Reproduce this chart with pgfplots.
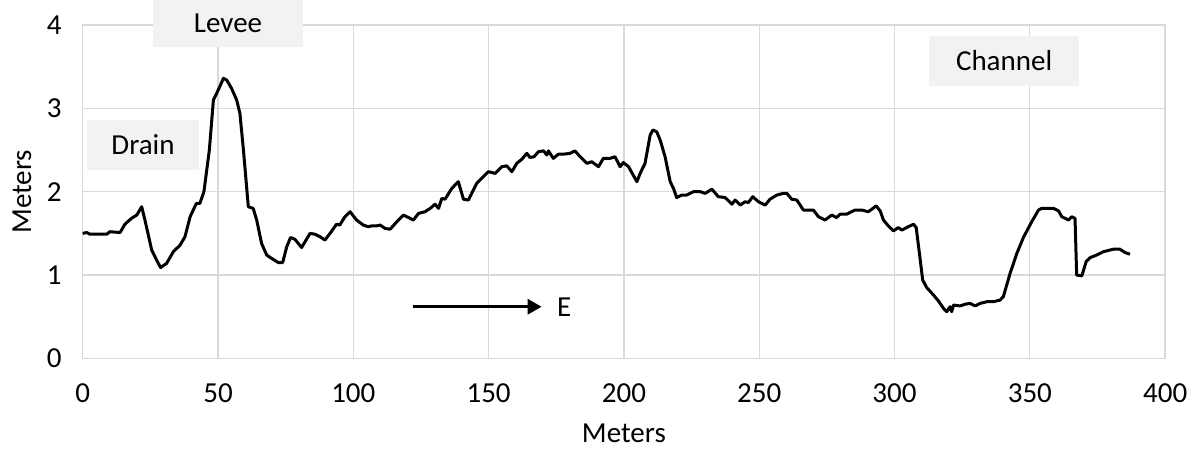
\documentclass[border=0pt]{standalone}
\usepackage{fontspec}
\setmainfont{Carlito}
\usepackage{pgfplots}
\pgfplotsset{compat=1.18}
\usetikzlibrary{arrows.meta}
\definecolor{gridc}{HTML}{D9D9D9}
\definecolor{boxc}{HTML}{F2F2F2}
\begin{document}
\begin{tikzpicture}
\begin{axis}[
  name=ax,
  scale only axis,
  width=541.2bp, height=166.7bp,
  xmin=0, xmax=400, ymin=0, ymax=4,
  xtick={0,50,...,400}, ytick={0,1,2,3,4},
  grid=major,
  grid style={gridc, line width=0.6bp},
  axis line style={gridc, line width=0.8bp},
  tick style={draw=none},
  clip=false,
  font=\fontsize{14.5bp}{17bp}\selectfont,
  /pgf/number format/assume math mode=true,
  xticklabel style={yshift=-9bp},
  yticklabel style={xshift=-7bp},
  xlabel={Meters}, ylabel={Meters},
  xlabel style={yshift=-4bp},
  ylabel style={yshift=1bp},
]
\addplot[black, line width=1.5bp, line join=round] coordinates {
(0,1.50) (1.5,1.51) (2.7,1.49) (8.9,1.49) (10,1.52) (13.8,1.51) (15.6,1.61) (18,1.68) (20,1.72) (21.8,1.82) (23,1.66) (25.5,1.30) (27.3,1.18) (28.8,1.09) (31,1.14) (33.5,1.28) (36,1.36) (37.8,1.46) (39.7,1.70) (42,1.86) (43.3,1.86) (44.8,2.00) (46.8,2.50) (48.3,3.10) (50.1,3.22) (52,3.36) (53.2,3.34) (55,3.24) (56.9,3.10) (58.1,2.94) (59.4,2.50) (61.2,1.82) (63,1.80) (64.3,1.66) (66.1,1.38) (68,1.24) (69.8,1.20) (72.3,1.15) (73.9,1.15) (75.4,1.34) (76.8,1.45) (78.4,1.43) (80.9,1.33) (84,1.50) (85.8,1.49) (87.7,1.46) (89.5,1.42) (91.4,1.50) (93.8,1.61) (95,1.60) (96.9,1.70) (98.8,1.76) (101.2,1.66) (103.7,1.60) (105.5,1.58) (106.8,1.59) (108.6,1.59) (109.9,1.60) (111.7,1.56) (113.6,1.55) (116.1,1.64) (118.5,1.72) (120.4,1.69) (122.2,1.66) (124.1,1.74) (126.5,1.76) (128.4,1.80) (130.2,1.85) (131.5,1.80) (132.7,1.92) (133.9,1.91) (136.4,2.04) (138.8,2.12) (140.7,1.91) (142.5,1.90) (145.6,2.10) (149.9,2.24) (152.4,2.22) (154.9,2.30) (156.7,2.31) (158.6,2.24) (160.4,2.34) (162.3,2.39) (164.1,2.46) (165.3,2.41) (166.8,2.42) (168.4,2.48) (170.3,2.49) (171.5,2.44) (172.1,2.49) (173.9,2.40) (175.8,2.45) (177.6,2.45) (180.1,2.46) (181.9,2.49) (183.8,2.42) (186.3,2.34) (188.1,2.36) (190.6,2.30) (192.4,2.40) (194.9,2.40) (196.7,2.42) (198.6,2.30) (199.8,2.35) (201.7,2.30) (204.8,2.12) (206,2.22) (207.8,2.34) (209.7,2.68) (210.7,2.74) (212.1,2.72) (213.4,2.62) (215.2,2.42) (217.1,2.12) (218.3,2.04) (219.5,1.93) (221.4,1.96) (223.2,1.96) (225.7,2.00) (228.2,2.00) (230,1.98) (232.5,2.03) (234.9,1.94) (237.4,1.93) (239.9,1.85) (241.1,1.90) (243,1.84) (244.8,1.88) (246,1.87) (247.6,1.94) (249.7,1.88) (252.2,1.84) (254,1.91) (256.5,1.96) (258.9,1.98) (260.2,1.98) (262,1.91) (263.9,1.90) (266.3,1.78) (270,1.78) (271.9,1.70) (274.3,1.66) (276.8,1.72) (278.6,1.69) (279.9,1.73) (282.3,1.73) (285.4,1.78) (287.9,1.78) (290.3,1.76) (291.6,1.79) (293.2,1.83) (294.7,1.77) (295.9,1.66) (297.7,1.59) (299.6,1.53) (301.4,1.57) (302.7,1.54) (304.5,1.57) (307,1.61) (308,1.57) (309.2,1.26) (310.4,0.94) (311.9,0.85) (314.4,0.76) (316.2,0.69) (318.1,0.60) (319.3,0.56) (320.5,0.62) (321.1,0.56) (321.8,0.64) (324.2,0.63) (326.1,0.65) (327.9,0.66) (329.8,0.63) (331.6,0.66) (334.1,0.68) (336.5,0.68) (339,0.70) (340.2,0.74) (342.7,1.02) (345.2,1.26) (347.6,1.45) (350.7,1.64) (353.2,1.78) (354.4,1.80) (358.7,1.80) (360.6,1.77) (361.8,1.70) (364.3,1.66) (365.5,1.70) (366.7,1.68) (367.3,1.00) (369.2,0.99) (370.8,1.16) (372.3,1.21) (374.7,1.24) (377.2,1.28) (379.6,1.30) (380.9,1.31) (383.3,1.31) (385.2,1.27) (387,1.25)
};
\node[fill=boxc, minimum width=75bp, minimum height=24bp, inner sep=0pt] at (axis cs:53.7,4.025) {Levee};
\node[fill=boxc, minimum width=56bp, minimum height=25bp, inner sep=0pt] at (axis cs:22.3,2.56) {Drain};
\node[fill=boxc, minimum width=75bp, minimum height=25bp, inner sep=0pt] at (axis cs:340.5,3.57) {Channel};
\draw[black, line width=1.5bp, -{Triangle[length=7bp,width=7.5bp]}] (axis cs:121.9,0.62) -- (axis cs:169.6,0.62);
\node[anchor=west, inner sep=0pt] at (axis cs:175.2,0.62) {E};
\coordinate (bl) at (axis cs:-30.56,-1.125);
\coordinate (tr) at (axis cs:411.4,4.30);
\end{axis}
\pgfresetboundingbox
\path[use as bounding box] (bl) rectangle (tr);
\end{tikzpicture}
\end{document}
